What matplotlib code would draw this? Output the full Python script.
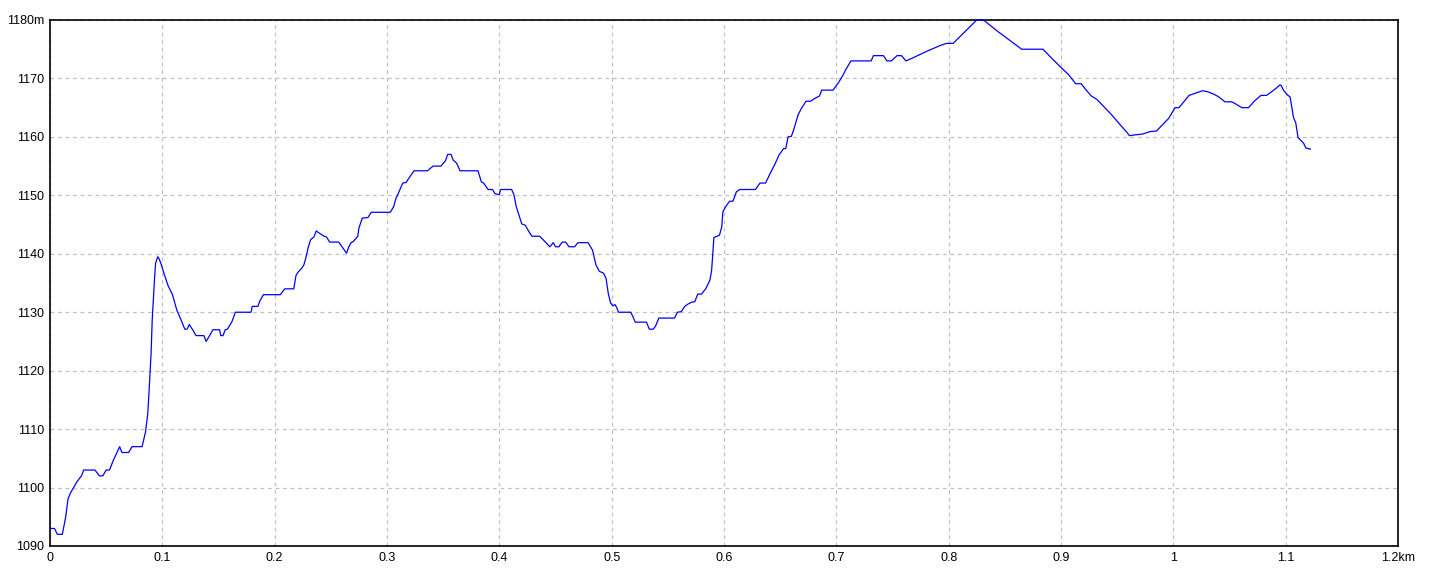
import matplotlib
matplotlib.use("Agg")
import matplotlib.pyplot as plt

distance_km = [
    0.000, 0.004, 0.0065, 0.011, 0.014, 0.016, 0.018, 0.021, 0.024, 0.028, 0.030, 0.040, 0.044, 0.047,
    0.050, 0.053, 0.056, 0.062, 0.064, 0.070, 0.073, 0.082, 0.085, 0.087, 0.088, 0.090, 0.091, 0.093,
    0.094, 0.096, 0.097, 0.099, 0.101, 0.105, 0.109, 0.113, 0.116, 0.120, 0.122, 0.124, 0.127, 0.130,
    0.137, 0.139, 0.143, 0.145, 0.151, 0.152, 0.154, 0.156, 0.158, 0.162, 0.165, 0.179, 0.180, 0.185,
    0.187, 0.190, 0.205, 0.209, 0.217, 0.219, 0.221, 0.224, 0.226, 0.228, 0.230, 0.232, 0.235, 0.237,
    0.240, 0.244, 0.246, 0.249, 0.257, 0.261, 0.264, 0.266, 0.268, 0.270, 0.274, 0.275, 0.278, 0.283,
    0.286, 0.303, 0.306, 0.308, 0.310, 0.312, 0.314, 0.317, 0.319, 0.324, 0.336, 0.341, 0.348, 0.352,
    0.354, 0.357, 0.359, 0.362, 0.365, 0.381, 0.384, 0.386, 0.390, 0.394, 0.396, 0.400, 0.401, 0.411,
    0.413, 0.415, 0.418, 0.420, 0.423, 0.426, 0.429, 0.436, 0.439, 0.445, 0.448, 0.450, 0.453, 0.456,
    0.459, 0.462, 0.467, 0.470, 0.479, 0.483, 0.486, 0.489, 0.4926, 0.495, 0.497, 0.499, 0.501, 0.503,
    0.5045, 0.506, 0.517, 0.519, 0.521, 0.531, 0.5335, 0.537, 0.539, 0.542, 0.556, 0.5585, 0.562, 0.565,
    0.568, 0.571, 0.574, 0.5766, 0.580, 0.584, 0.5875, 0.589, 0.590, 0.591, 0.594, 0.596, 0.598, 0.599,
    0.602, 0.605, 0.608, 0.611, 0.614, 0.628, 0.632, 0.637, 0.639, 0.642, 0.645, 0.649, 0.653, 0.655,
    0.657, 0.660, 0.662, 0.666, 0.669, 0.673, 0.677, 0.681, 0.685, 0.687, 0.697, 0.702, 0.706, 0.709,
    0.713, 0.731, 0.733, 0.742, 0.745, 0.749, 0.754, 0.758, 0.762, 0.769, 0.780, 0.792, 0.798, 0.804,
    0.825, 0.831, 0.844, 0.865, 0.884, 0.892, 0.901, 0.907, 0.913, 0.918, 0.922, 0.927, 0.932, 0.938,
    0.945, 0.953, 0.959, 0.961, 0.964, 0.973, 0.979, 0.985, 0.990, 0.996, 1.0015, 1.005, 1.008, 1.014,
    1.020, 1.026, 1.031, 1.036, 1.040, 1.046, 1.052, 1.055, 1.061, 1.067, 1.072, 1.078, 1.083, 1.088,
    1.092, 1.095, 1.096, 1.098, 1.101, 1.104, 1.105, 1.107, 1.109, 1.111, 1.113, 1.116, 1.118, 1.122,
]

elevation_m = [
    1093, 1093, 1092, 1092, 1095, 1098, 1099, 1100, 1101, 1102, 1103, 1103, 1102, 1102,
    1103, 1103, 1104.5, 1107, 1106, 1106, 1107, 1107, 1109.5, 1112.6, 1115.8, 1123, 1128.7, 1135.6,
    1138.4, 1139.5, 1139.2, 1138.2, 1136.9, 1134.6, 1133, 1130.3, 1129, 1127.1, 1127.1, 1127.9, 1127, 1126,
    1126, 1125, 1126.3, 1127, 1127, 1126, 1126, 1127, 1127.1, 1128.4, 1130, 1130, 1131, 1131,
    1132, 1133, 1133, 1134, 1134, 1136.3, 1136.9, 1137.5, 1138.1, 1139.5, 1141.2, 1142.4, 1142.9, 1143.9,
    1143.5, 1143.0, 1142.9, 1142.0, 1142.0, 1140.9, 1140.1, 1141.2, 1141.9, 1142.1, 1143, 1144.4, 1146.1, 1146.2,
    1147.1, 1147.1, 1148.1, 1149.5, 1150.3, 1151.2, 1152.1, 1152.2, 1152.8, 1154.2, 1154.2, 1155.0, 1155.0, 1155.9,
    1157.0, 1157.0, 1156.0, 1155.5, 1154.2, 1154.2, 1152.3, 1152.1, 1151.0, 1151.0, 1150.3, 1150.1, 1151.0, 1151.0,
    1150.1, 1148.1, 1146.3, 1145.1, 1144.9, 1143.9, 1143.0, 1143.0, 1142.4, 1141.2, 1141.9, 1141.2, 1141.2, 1142.0,
    1142.0, 1141.2, 1141.2, 1141.9, 1141.9, 1140.6, 1138.1, 1137.0, 1136.7, 1135.8, 1133.2, 1131.6, 1131.1, 1131.3,
    1130.8, 1130.0, 1130.0, 1129.2, 1128.3, 1128.3, 1127.1, 1127.1, 1127.6, 1129.0, 1129.0, 1130.0, 1130.1, 1131.0,
    1131.4, 1131.7, 1131.8, 1133.1, 1133.1, 1134.1, 1135.5, 1137.2, 1140.1, 1142.8, 1143.0, 1143.2, 1144.6, 1147.2,
    1148.2, 1149.0, 1149.0, 1150.6, 1151.0, 1151.0, 1152.1, 1152.1, 1152.9, 1154.1, 1155.2, 1156.9, 1158.0, 1158.0,
    1160.0, 1160.1, 1161.2, 1163.8, 1164.9, 1166.1, 1166.1, 1166.6, 1167.0, 1168.0, 1168.0, 1169.3, 1170.6, 1171.7,
    1173.0, 1173.0, 1173.9, 1173.9, 1173.0, 1173.0, 1173.9, 1173.9, 1173.0, 1173.6, 1174.6, 1175.6, 1176.0, 1176.0,
    1180.0, 1180.0, 1178.0, 1175.0, 1175.0, 1173.4, 1171.7, 1170.6, 1169.1, 1169.1, 1168.1, 1167.0, 1166.4, 1165.2,
    1163.8, 1162.0, 1160.7, 1160.2, 1160.3, 1160.5, 1160.9, 1161.0, 1162.0, 1163.2, 1165.0, 1165.0, 1165.7, 1167.1,
    1167.5, 1167.9, 1167.7, 1167.3, 1166.9, 1166.0, 1166.0, 1165.7, 1165.0, 1165.0, 1166.1, 1167.1, 1167.1, 1167.8,
    1168.4, 1168.9, 1168.8, 1168.0, 1167.3, 1166.8, 1165.6, 1163.3, 1162.4, 1159.9, 1159.5, 1158.9, 1158.1, 1157.9,
]

x_ticks = [0, 0.1, 0.2, 0.3, 0.4, 0.5, 0.6, 0.7, 0.8, 0.9, 1.0, 1.1, 1.2]
x_tick_labels = ["0", "0.1", "0.2", "0.3", "0.4", "0.5", "0.6", "0.7", "0.8", "0.9", "1", "1.1", "1.2km"]
y_ticks = [1090, 1100, 1110, 1120, 1130, 1140, 1150, 1160, 1170, 1180]
y_tick_labels = ["1090", "1100", "1110", "1120", "1130", "1140", "1150", "1160", "1170", "1180m"]

plt.rcParams['font.family'] = ['Liberation Sans', 'DejaVu Sans']

fig = plt.figure(figsize=(14.4, 5.76), dpi=100)
ax = fig.add_axes([50 / 1440, 30 / 576, 1348 / 1440, 526 / 576])

ax.plot(distance_km, elevation_m, color="#0000ff", linewidth=0.9, clip_on=False, zorder=3)

ax.set_xlim(0, 1.2)
ax.set_ylim(1090, 1180)
ax.set_xticks(x_ticks)
ax.set_xticklabels(x_tick_labels)
ax.set_yticks(y_ticks)
ax.set_yticklabels(y_tick_labels)
ax.tick_params(axis="both", length=0, labelsize=9, colors="black")
ax.tick_params(axis="x", pad=4)
ax.tick_params(axis="y", pad=4)

ax.grid(True, color="#c0c0c0", linestyle=(0, (3, 3)), linewidth=0.9)
ax.set_axisbelow(True)
for s in ax.spines.values():
    s.set_color("black")
    s.set_linewidth(1.2)

fig.savefig("out.png", dpi=100, facecolor="white")
